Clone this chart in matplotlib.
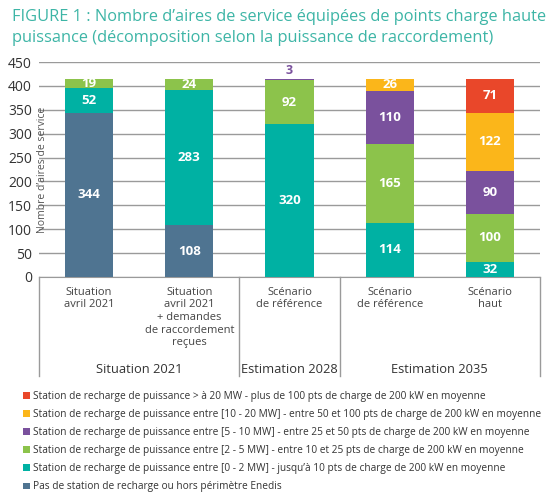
import matplotlib
matplotlib.use("Agg")
import matplotlib.pyplot as plt
from matplotlib.transforms import blended_transform_factory
from matplotlib.patches import Patch

categories = ["Situation\navril 2021", "Situation\navril 2021\n+ demandes\nde raccordement\nreçues",
              "Scénario\nde référence", "Scénario\nde référence", "Scénario\nhaut"]
groups = ["Situation 2021", "Estimation 2028", "Estimation 2035"]
group_spans = [(0, 1), (2, 2), (3, 4)]

pas_station = [344, 108, 0, 0, 0]
p0_2 = [52, 283, 320, 114, 32]
p2_5 = [19, 24, 92, 165, 100]
p5_10 = [0, 0, 3, 110, 90]
p10_20 = [0, 0, 0, 26, 122]
p20 = [0, 0, 0, 0, 71]

series = [pas_station, p0_2, p2_5, p5_10, p10_20, p20]
colors = ["#4f7491", "#00b1a3", "#8cc34b", "#7a519d", "#fbb61a", "#e9472a"]
legend_labels = [
    "Pas de station de recharge ou hors périmètre Enedis",
    "Station de recharge de puissance entre [0 - 2 MW] - jusqu’à 10 pts de charge de 200 kW en moyenne",
    "Station de recharge de puissance entre [2 - 5 MW] - entre 10 et 25 pts de charge de 200 kW en moyenne",
    "Station de recharge de puissance entre [5 - 10 MW] - entre 25 et 50 pts de charge de 200 kW en moyenne",
    "Station de recharge de puissance entre [10 - 20 MW] - entre 50 et 100 pts de charge de 200 kW en moyenne",
    "Station de recharge de puissance > à 20 MW - plus de 100 pts de charge de 200 kW en moyenne",
]

plt.rcParams['font.family'] = ['Open Sans', 'DejaVu Sans']

fig = plt.figure(figsize=(5.56, 5.0), dpi=100)
ax = fig.add_axes([39/556, 1-277/500, 501/556, 215/500])

x = list(range(len(categories)))
bottoms = [0]*len(x)
for vals, col in zip(series, colors):
    ax.bar(x, vals, bottom=bottoms, width=0.48, color=col, zorder=3)
    for xi, v, b in zip(x, vals, bottoms):
        if v == 0:
            continue
        if v < 10:
            ax.text(xi, b + v + 4, str(v), ha="center", va="bottom", color=col,
                    fontsize=9, fontweight="bold", zorder=4)
        else:
            ax.text(xi, b + v/2, str(v), ha="center", va="center", color="white",
                    fontsize=9.5, fontweight="bold", zorder=4)
    bottoms = [b + v for b, v in zip(bottoms, vals)]

ax.set_xlim(-0.5, 4.5)
ax.set_ylim(0, 450)
ax.set_yticks(range(0, 451, 50))
ax.yaxis.grid(True, color="#9a9a9a", linewidth=1.0, zorder=0)
ax.set_axisbelow(True)
for s in ["top", "right", "left"]:
    ax.spines[s].set_visible(False)
ax.spines["bottom"].set_color("#9a9a9a")
ax.tick_params(axis="y", length=0, pad=5, labelsize=10, labelcolor="#333333")
ax.tick_params(axis="x", length=0, pad=7, labelsize=8, labelcolor="#444444")
ax.set_xticks(x)
ax.set_xticklabels(categories, linespacing=1.2, va="top")

ax.text(0.006, 0.5, "Nombre d’aires de service", transform=ax.transAxes, rotation=90,
        ha="center", va="center", fontsize=7.5, color="#555555")

trans = blended_transform_factory(ax.transData, ax.transAxes)
for xs in [-0.5, 1.5, 2.5, 4.5]:
    ax.plot([xs, xs], [0, -0.46], transform=trans, color="#9a9a9a", lw=1.0, clip_on=False)
for g, (a, b) in zip(groups, group_spans):
    ax.text((a + b) / 2, -0.43, g, transform=trans, ha="center", va="center",
            fontsize=9.3, color="#333333")

fig.text(12/556, 1-17/500, "FIGURE 1 : Nombre d’aires de service équipées de points charge haute",
         ha="left", va="center", fontsize=11.75, color="#3db5a6")
fig.text(12/556, 1-38/500, "puissance (décomposition selon la puissance de raccordement)",
         ha="left", va="center", fontsize=11.75, color="#3db5a6")

handles = [Patch(facecolor=c) for c in colors[::-1]]
fig.legend(handles, legend_labels[::-1], loc="upper left", bbox_to_anchor=(23/556, 1-391/500),
           frameon=False, fontsize=7.3, handlelength=0.65, handleheight=0.65, handletextpad=0.3,
           labelspacing=0.7, borderaxespad=0, borderpad=0, labelcolor="#333333")

fig.savefig("out.png", dpi=100)
